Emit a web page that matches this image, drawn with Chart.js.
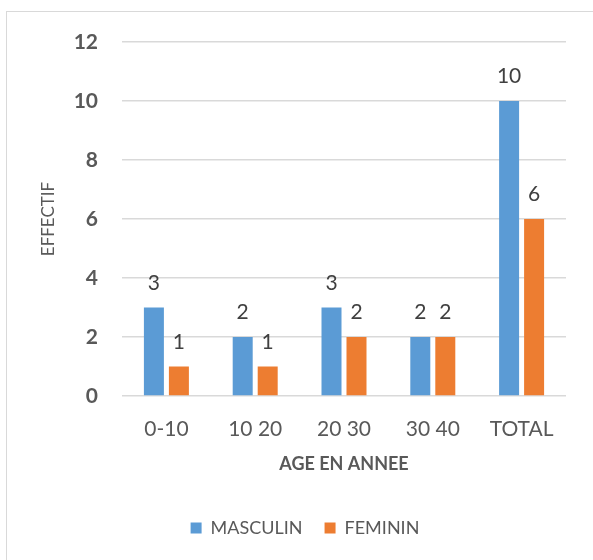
<!DOCTYPE html>
<html>
<head>
<meta charset="utf-8">
<script src="https://cdn.jsdelivr.net/npm/chart.js@4.4.1/dist/chart.umd.min.js"></script>
<style>
  html, body { margin: 0; padding: 0; background: #ffffff; }
  #wrap { width: 593px; height: 560px; position: relative; }
</style>
</head>
<body>
<div id="wrap"><canvas id="chart" width="593" height="560"></canvas></div>
<script>
// Age groups and head counts per sex
const categories = ['0-10', '10 20', '20 30', '30 40', 'TOTAL'];
const masculin = [3, 2, 3, 2, 10];
const feminin = [1, 1, 2, 2, 6];
const yMin = 0;
const yMax = 12;
const yStep = 2;

const FONT = 'Lato, "Open Sans", sans-serif';
const GREY = '#595959';

// Value printed above every bar
const barValues = {
  id: 'barValues',
  afterDatasetsDraw(chart) {
    const ctx = chart.ctx;
    ctx.save();
    ctx.font = '21px ' + FONT;
    ctx.fillStyle = '#404040';
    ctx.textAlign = 'center';
    ctx.textBaseline = 'alphabetic';
    chart.data.datasets.forEach((ds, i) => {
      chart.getDatasetMeta(i).data.forEach((bar, j) => {
        ctx.fillText(String(ds.data[j]), bar.x, bar.y - 18);
      });
    });
    ctx.restore();
  }
};

// Thin frame around the whole chart
const frame = {
  id: 'frame',
  beforeDraw(chart) {
    const ctx = chart.ctx;
    ctx.save();
    ctx.strokeStyle = '#d9d9d9';
    ctx.lineWidth = 1;
    ctx.strokeRect(6.5, 11.5, 700, 700);
    ctx.restore();
  }
};

new Chart(document.getElementById('chart'), {
  type: 'bar',
  data: {
    labels: categories,
    datasets: [
      { label: 'MASCULIN', data: masculin, backgroundColor: '#5B9BD5', borderWidth: 0 },
      { label: 'FEMININ', data: feminin, backgroundColor: '#ED7D31', borderWidth: 0 }
    ]
  },
  options: {
    responsive: false,
    animation: false,
    events: [],
    datasets: { bar: { categoryPercentage: 0.563, barPercentage: 0.8 } },
    layout: { padding: { top: 42, right: 27, bottom: 13, left: 44 } },
    plugins: {
      tooltip: { enabled: false },
      legend: {
        position: 'bottom',
        labels: {
          boxWidth: 11,
          boxHeight: 11,
          padding: 22,
          color: GREY,
          font: { family: FONT, size: 18 }
        }
      }
    },
    scales: {
      x: {
        grid: { display: false },
        border: { display: false },
        ticks: { color: GREY, padding: 13, font: { family: FONT, size: 21 } },
        title: {
          display: true,
          text: 'AGE EN ANNEE',
          color: GREY,
          font: { family: FONT, size: 18, weight: 'bold' },
          padding: { top: 0, bottom: 22 }
        },
        afterFit(scale) { scale.height = 101; }
      },
      y: {
        min: yMin,
        max: yMax,
        ticks: {
          stepSize: yStep,
          color: GREY,
          padding: 24,
          font: { family: FONT, size: 21, weight: 'bold' }
        },
        grid: { color: '#d9d9d9', lineWidth: 1.5, drawTicks: false },
        border: { display: false },
        title: {
          display: true,
          text: 'EFFECTIF',
          color: GREY,
          font: { family: FONT, size: 17 },
          padding: { top: -6, bottom: 0 }
        },
        afterFit(scale) { scale.width = 78; }
      }
    }
  },
  plugins: [frame, barValues]
});
</script>
</body>
</html>
